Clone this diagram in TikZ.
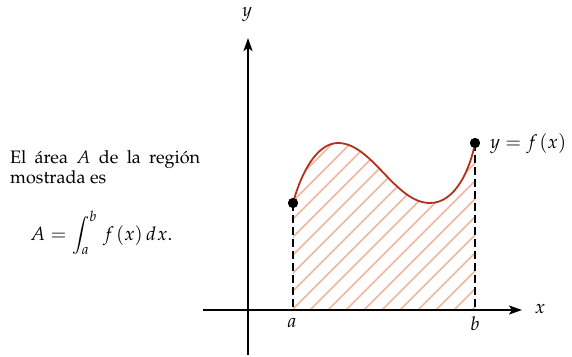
\documentclass[tikz,border=0pt]{standalone}
\usepackage[T1]{fontenc}
\usepackage{mathpazo}
\usetikzlibrary{arrows.meta}
\definecolor{curvered}{RGB}{178,48,28}
\definecolor{hatch}{RGB}{236,184,160}
\tikzset{
  axis/.style={line width=2pt,-{Stealth[length=13pt,width=9pt,inset=3pt]}},
  fcurve/.style={line width=1.8pt,curvered},
  guide/.style={line width=1.1pt,dash pattern=on 8pt off 4pt},
  hatchline/.style={line width=1.5pt,hatch},
  dot/.style={circle,fill=black,inner sep=0pt,minimum size=10pt},
  lbl/.style={inner sep=0pt,font=\fontsize{18}{20}\selectfont},
  mlbl/.style={inner sep=0pt,font=\fontsize{19}{21}\selectfont},
}
\begin{document}
\begin{tikzpicture}[x=1pt,y=-1pt]
\useasboundingbox (0,0) rectangle (572,356);
% hatched region
\begin{scope}
\clip (293,310) -- (293,203) .. controls (302,170) and (318,143) .. (338,143)
  .. controls (372,143) and (395,203) .. (430,203)
  .. controls (455,203) and (470,170) .. (475,143) -- (475,310) -- cycle;
\foreach \k in {-240,-222,...,480} {
  \draw[hatchline] (\k,320) -- (\k+240,80);
}
\end{scope}
% axes
\coordinate (xs) at (203,310);
\coordinate (xe) at (522,310);
\coordinate (ys) at (248,355);
\coordinate (ye) at (248,38);
\draw[axis] (xs) -- (xe);
\draw[axis] (ys) -- (ye);
% points
\node[dot] (pa) at (293,203) {};
\node[dot] (pb) at (475,143) {};
\coordinate (fa) at (293,310);
\coordinate (fb) at (475,310);
\draw[guide] (pa.center) -- (fa);
\draw[guide] (pb.center) -- (fb);
% curve
\draw[fcurve] (pa.center) .. controls (302,170) and (318,143) .. (338,143)
  .. controls (372,143) and (395,203) .. (430,203)
  .. controls (455,203) and (470,170) .. (pb.center);
\node[dot] at (pa.center) {};
\node[dot] at (pb.center) {};
% labels
\node[mlbl] (ly) at (247,15) {$y$};
\node[mlbl] (lx) at (540,309) {$x$};
\node[mlbl] (la) at (292,323) {$a$};
\node[mlbl] (lb) at (475,324) {$b$};
\node[mlbl,anchor=west] (lf) at (490,144) {$y=f\mkern2mu(x)$};
% text
\node[lbl,anchor=base west] (t1) at (10,163) {\makebox[190pt][s]{El área $A$ de la región}};
\node[lbl,anchor=base west] (t2) at (10,183) {mostrada es};
\node[mlbl,anchor=base west] (t3) at (30,240) {$\displaystyle A=\int_a^b\, f\mkern2mu(x)\,d\mkern1mu x.$};
\end{tikzpicture}
\end{document}
